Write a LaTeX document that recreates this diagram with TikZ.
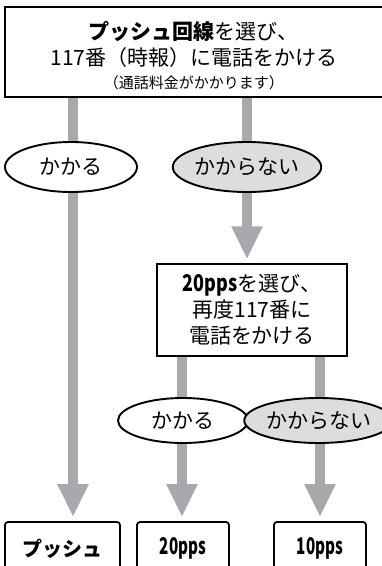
\documentclass[tikz,border=0pt]{standalone}
\usepackage{fontspec}
\usepackage{graphicx}
\setmainfont{Noto Sans CJK JP}
\usetikzlibrary{shapes.geometric,arrows.meta,backgrounds}
\definecolor{arrgray}{HTML}{A7A9AC}
\definecolor{ellgray}{HTML}{DCDDDE}
\newcommand\cnd[2]{\scalebox{#1}[1]{#2}}
\tikzset{
  sqbox/.style={draw=black, line width=1.3pt, fill=white, inner sep=0pt, align=center, font=\fontsize{21}{26}\selectfont},
  txt/.style={inner sep=0pt, align=center, font=\fontsize{21}{26}\selectfont},
  endbox/.style={draw=black, line width=1.8pt, fill=white, rounded corners=3pt, inner sep=0pt, minimum height=53pt, font=\fontsize{20}{26}\selectfont\bfseries},
  oval/.style={ellipse, draw=black, line width=1.9pt, inner sep=0pt, font=\fontsize{21}{24}\selectfont},
  yes/.style={oval, fill=white},
  no/.style={oval, fill=ellgray},
  arr/.style={draw=arrgray, line width=9.5pt, -{Triangle[width=29pt,length=33pt]}, shorten >=4pt}
}
\begin{document}
\begin{tikzpicture}[x=1pt,y=-1pt]
\useasboundingbox (0,0) rectangle (382,566);
\clip (0,0) rectangle (382,566);
% boxes
\node[sqbox, minimum width=378pt, minimum height=90pt] (top) at (194,52) {};
\node[txt] (toptext) at (194,55.5)
  {\textbf{プッシュ回線}を選び、\\117番（時報）に電話をかける\\[-3pt]{\fontsize{15}{16}\selectfont（通話料金がかかります）}};
\node[sqbox, minimum width=190pt, minimum height=92pt] (sec) at (252,310)
  {{\fontsize{23}{26}\selectfont\bfseries\cnd{0.78}{20pps}}を選び、\\再度117番に\\電話をかける};
\node[endbox, minimum width=115pt] (push) at (62.5,548.5) {プッシュ};
\node[endbox, minimum width=92pt] (p20) at (183,548.5) {\fontsize{23}{26}\selectfont\cnd{0.66}{20pps}};
\node[endbox, minimum width=92pt] (p10) at (320,548.5) {\fontsize{23}{26}\selectfont\cnd{0.66}{10pps}};
% ovals
\node[yes, minimum width=132pt, minimum height=50pt] (ok1) at (71,167) {かかる};
\node[no, minimum width=129pt, minimum height=50pt] (ng1) at (247,167) {かからない};
\node[yes, minimum width=130pt, minimum height=45pt] (ok2) at (183,420.5) {かかる};
\node[no, minimum width=127pt, minimum height=45pt] (ng2) at (318.5,420.5) {かからない};
% arrow columns
\coordinate (cA) at (73,0);
\coordinate (cB) at (247,0);
\coordinate (cC) at (182,0);
\coordinate (cD) at (320,0);
\begin{scope}[on background layer]
\draw[arr] (top.south -| cA) -- (push.north -| cA);
\draw[arr] (top.south -| cB) -- (sec.north -| cB);
\draw[arr] (sec.south -| cC) -- (p20.north -| cC);
\draw[arr] (sec.south -| cD) -- (p10.north -| cD);
\end{scope}
\end{tikzpicture}
\end{document}
